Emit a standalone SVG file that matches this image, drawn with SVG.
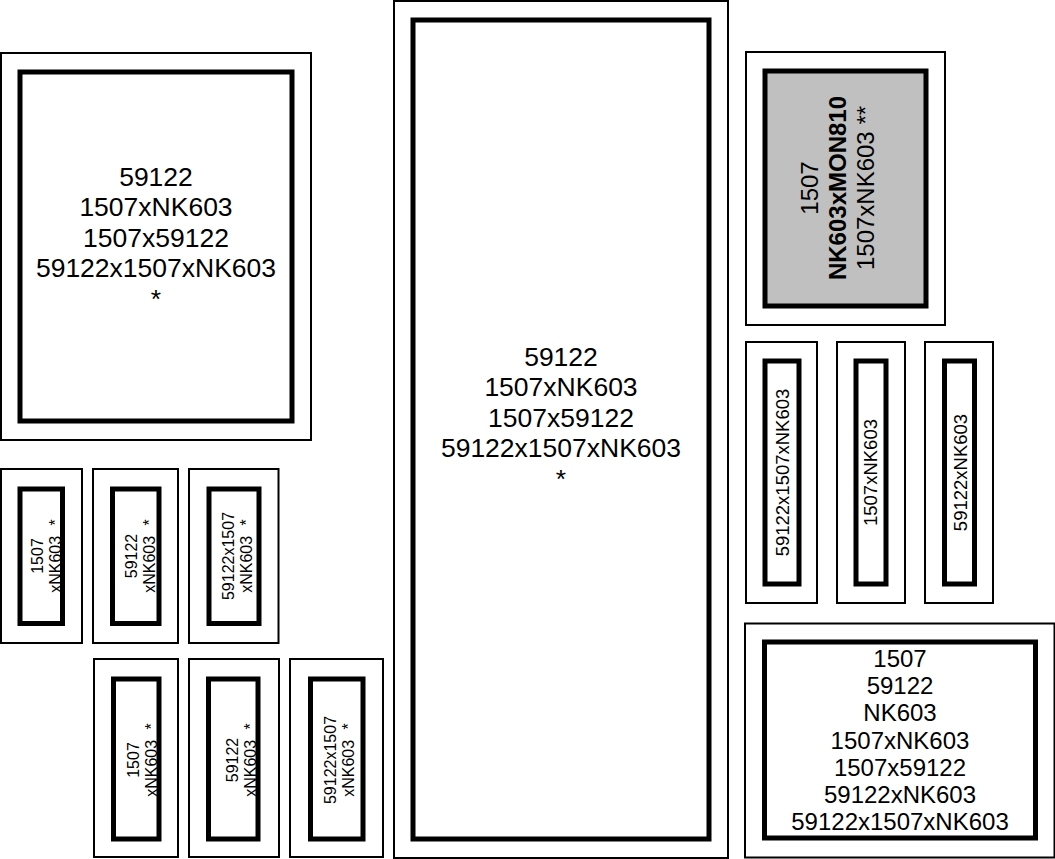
<svg xmlns="http://www.w3.org/2000/svg" width="1055" height="859" viewBox="0 0 1055 859">
<style>
.o{fill:#fff;stroke:#000;stroke-width:2}
.i{fill:#fff;stroke:#000;stroke-width:5}
.g{fill:#c0c0c0}
text{font-family:"Liberation Sans",Arial,sans-serif;fill:#000;text-anchor:middle}
.big{font-size:26.5px}
.med{font-size:24px}
.rs{font-size:18.5px}
.sm{font-size:16px}
.b{font-weight:bold}
</style>
<rect width="1055" height="859" fill="#fff"/>
<g id="connectors"></g>

<g id="box-left-big">
<rect class="o" x="1" y="53" width="310" height="387"/>
<rect class="i" x="20" y="72" width="272" height="349"/>
<text class="big" x="156" y="185.5"><tspan x="156" y="185.5">59122</tspan><tspan x="156" dy="30.5">1507xNK603</tspan><tspan x="156" dy="30.5">1507x59122</tspan><tspan x="156" dy="30.5">59122x1507xNK603</tspan><tspan x="156" dy="30.5">*</tspan></text>
</g>

<g id="box-center">
<rect class="o" x="394" y="1" width="334" height="857"/>
<rect class="i" x="413" y="20" width="296" height="819"/>
<text class="big" x="561" y="365.5"><tspan x="561" y="365.5">59122</tspan><tspan x="561" dy="30.5">1507xNK603</tspan><tspan x="561" dy="30.5">1507x59122</tspan><tspan x="561" dy="30.5">59122x1507xNK603</tspan><tspan x="561" dy="30.5">*</tspan></text>
</g>

<g id="box-gray">
<rect class="o" x="746" y="52" width="199" height="273"/>
<rect class="i g" x="765" y="71" width="161" height="235"/>
<text class="med" x="818" y="188" transform="rotate(-90 818 188)"><tspan x="818" y="188">1507</tspan><tspan x="818" dy="28" class="b">NK603xMON810</tspan><tspan x="818" dy="28">1507xNK603 **</tspan></text>
</g>

<g id="box-r1">
<rect class="o" x="746" y="342" width="71" height="261"/>
<rect class="i" x="765" y="361" width="34" height="223"/>
<text class="rs" x="789" y="472.5" transform="rotate(-90 789 472.5)">59122x1507xNK603</text>
</g>
<g id="box-r2">
<rect class="o" x="837" y="342" width="68" height="261"/>
<rect class="i" x="856" y="361" width="30" height="223"/>
<text class="rs" x="877" y="472.5" transform="rotate(-90 877 472.5)">1507xNK603</text>
</g>
<g id="box-r3">
<rect class="o" x="925" y="342" width="68" height="261"/>
<rect class="i" x="944.5" y="361" width="30" height="223"/>
<text class="rs" x="966.5" y="472.5" transform="rotate(-90 966.5 472.5)">59122xNK603</text>
</g>

<g id="box-bottom-right">
<rect class="o" x="745" y="623.5" width="309.5" height="234"/>
<rect class="i" x="764.5" y="642" width="271" height="196"/>
<text class="med" x="900" y="667"><tspan x="900" y="667">1507</tspan><tspan x="900" dy="27.2">59122</tspan><tspan x="900" dy="27.2">NK603</tspan><tspan x="900" dy="27.2">1507xNK603</tspan><tspan x="900" dy="27.2">1507x59122</tspan><tspan x="900" dy="27.2">59122xNK603</tspan><tspan x="900" dy="27.2">59122x1507xNK603</tspan></text>
</g>

<g id="box-s1">
<rect class="o" x="1" y="469" width="81" height="174"/>
<rect class="i" x="20" y="489" width="42.5" height="134.5"/>
<text class="sm" x="43" y="556" transform="rotate(-90 43 556)"><tspan x="43" y="556">1507</tspan><tspan x="43" dy="18">xNK603 <tspan dx="6">*</tspan></tspan></text>
</g>
<g id="box-s2">
<rect class="o" x="93" y="469" width="85" height="174"/>
<rect class="i" x="112.5" y="489" width="46.5" height="134.5"/>
<text class="sm" x="137" y="556" transform="rotate(-90 137 556)"><tspan x="137" y="556">59122</tspan><tspan x="137" dy="18">xNK603 <tspan dx="6">*</tspan></tspan></text>
</g>
<g id="box-s3">
<rect class="o" x="189" y="469" width="89.5" height="174"/>
<rect class="i" x="209" y="489" width="50" height="134.5"/>
<text class="sm" x="233.5" y="556" transform="rotate(-90 233.5 556)"><tspan x="233.5" y="556">59122x1507</tspan><tspan x="233.5" dy="18">xNK603 <tspan dx="6">*</tspan></tspan></text>
</g>

<g id="box-s4">
<rect class="o" x="94" y="659" width="84" height="198"/>
<rect class="i" x="113.5" y="679" width="45.5" height="160"/>
<text class="sm" x="138.5" y="760" transform="rotate(-90 138.5 760)"><tspan x="138.5" y="760">1507</tspan><tspan x="138.5" dy="18">xNK603 <tspan dx="6">*</tspan></tspan></text>
</g>
<g id="box-s5">
<rect class="o" x="189" y="659" width="90" height="198"/>
<rect class="i" x="208.5" y="679" width="49.5" height="160"/>
<text class="sm" x="238" y="760" transform="rotate(-90 238 760)"><tspan x="238" y="760">59122</tspan><tspan x="238" dy="18">xNK603 <tspan dx="6">*</tspan></tspan></text>
</g>
<g id="box-s6">
<rect class="o" x="290" y="659" width="93" height="198"/>
<rect class="i" x="310.5" y="679" width="52.5" height="160"/>
<text class="sm" x="336" y="760" transform="rotate(-90 336 760)"><tspan x="336" y="760">59122x1507</tspan><tspan x="336" dy="18">xNK603 <tspan dx="6">*</tspan></tspan></text>
</g>
</svg>
